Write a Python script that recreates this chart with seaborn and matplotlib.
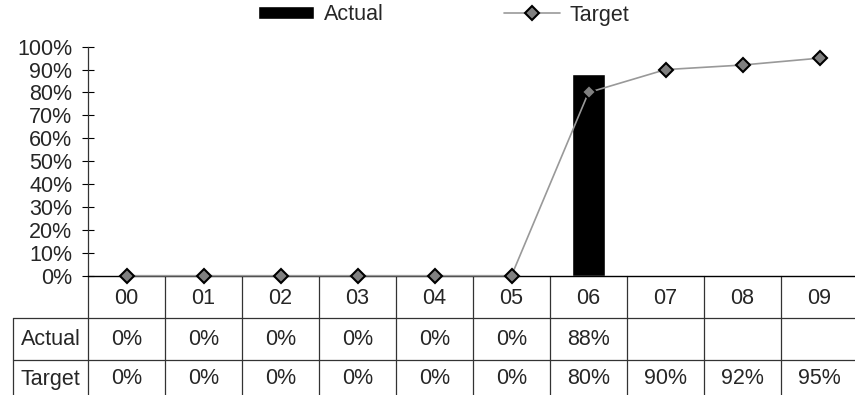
import numpy as np
import pandas as pd
import matplotlib
matplotlib.use("Agg")
import matplotlib.pyplot as plt
import matplotlib.transforms as mtransforms
import seaborn as sns

# Monthly attainment: actual vs target
categories = ["00", "01", "02", "03", "04", "05", "06", "07", "08", "09"]
actual = [0.0, 0.0, 0.0, 0.0, 0.0, 0.0, 0.88, np.nan, np.nan, np.nan]
target = [0.0, 0.0, 0.0, 0.0, 0.0, 0.0, 0.80, 0.90, 0.92, 0.95]
y_ticks = [0.0, 0.1, 0.2, 0.3, 0.4, 0.5, 0.6, 0.7, 0.8, 0.9, 1.0]

df = pd.DataFrame({"period": categories, "Actual": actual, "Target": target})

sns.set_theme(style="white")
plt.rcParams["font.family"] = ["Liberation Sans", "DejaVu Sans"]
FS = 15.5

W, H = 855, 395
fig = plt.figure(figsize=(W / 100, H / 100), dpi=100)
left_px, right_px, top_px, zero_px = 88, 858, 46.7, 275.7
ax = fig.add_axes([left_px / W, 1 - zero_px / H,
                   (right_px - left_px) / W, (zero_px - top_px) / H])

sns.barplot(data=df, x="period", y="Actual", order=categories, color="black",
            width=0.42, errorbar=None, label="Actual", ax=ax, zorder=2)
sns.pointplot(data=df, x="period", y="Target", order=categories,
              color="#999999", markers="D", linestyles="-", errorbar=None,
              label="Target", ax=ax, zorder=3)
pt_line = ax.lines[-1]
pt_line.set_markerfacecolor("#808080")
pt_line.set_markeredgecolor("black")
pt_line.set_markeredgewidth(1.5)
pt_line.set_markersize(7)
pt_line.set_linewidth(1.2)
pt_line.set_clip_on(False)

ax.set_xlim(-0.5, len(categories) - 0.5)
ax.set_ylim(0, 1.0)
ax.set_yticks(y_ticks)
ax.set_yticklabels([f"{int(round(v * 100))}%" for v in y_ticks], fontsize=FS)
ax.tick_params(axis="y", direction="inout", length=8.5, width=0.8,
               color="black", pad=7, left=True)
ax.set_xticks([])
ax.set_xlabel("")
ax.set_ylabel("")
for s in ["top", "right"]:
    ax.spines[s].set_visible(False)
ax.spines["left"].set_color("#333333")
ax.spines["left"].set_linewidth(0.9)
ax.spines["bottom"].set_color("black")
ax.spines["bottom"].set_linewidth(1.0)

# Data table below the plot
ax_h = zero_px - top_px
def yfrac(px):
    return (zero_px - px) / ax_h

row1, row2, bottom = 318, 360, 396
blend = mtransforms.blended_transform_factory(ax.transData, ax.transAxes)
line_kw = dict(color="#333333", lw=0.9, clip_on=False)

# column separators
for i in range(1, len(categories)):
    ax.plot([i - 0.5, i - 0.5], [0, yfrac(bottom)], transform=blend, **line_kw)
# left spine continued down through the table
ax.plot([0, 0], [0, yfrac(bottom)], transform=ax.transAxes, **line_kw)
# row label column outline
lab_left = (13 - left_px) / (right_px - left_px)
ax.plot([lab_left, lab_left], [yfrac(row1), yfrac(bottom)],
        transform=ax.transAxes, **line_kw)
for r in (row1, row2):
    ax.plot([lab_left, 1.0], [yfrac(r), yfrac(r)], transform=ax.transAxes, **line_kw)

def fmt(v):
    return "" if np.isnan(v) else f"{int(round(v * 100))}%"

y_cat = yfrac(298)
y_act = yfrac(339.5)
y_tgt = yfrac(379)
for i, c in enumerate(categories):
    ax.text(i, y_cat, c, transform=blend, ha="center", va="center", fontsize=FS)
    ax.text(i, y_act, fmt(actual[i]), transform=blend, ha="center", va="center", fontsize=FS)
    ax.text(i, y_tgt, fmt(target[i]), transform=blend, ha="center", va="center", fontsize=FS)
lab_x = (50.5 - left_px) / (right_px - left_px)
ax.text(lab_x, y_act, "Actual", transform=ax.transAxes, ha="center", va="center", fontsize=FS)
ax.text(lab_x, y_tgt, "Target", transform=ax.transAxes, ha="center", va="center", fontsize=FS)

# Legend across the top
handles, labels = ax.get_legend_handles_labels()
order = [labels.index("Actual"), labels.index("Target")]
handles = [handles[i] for i in order]
labels = [labels[i] for i in order]
if ax.get_legend() is not None:
    ax.get_legend().remove()
leg = fig.legend(handles, labels, loc="center", bbox_to_anchor=(444 / W, 1 - 15 / H),
                 ncol=2, frameon=False, fontsize=FS, handlelength=2.6,
                 handleheight=0.55, handletextpad=0.45, columnspacing=5.6,
                 borderpad=0, borderaxespad=0)

fig.savefig("out.png", dpi=100)
